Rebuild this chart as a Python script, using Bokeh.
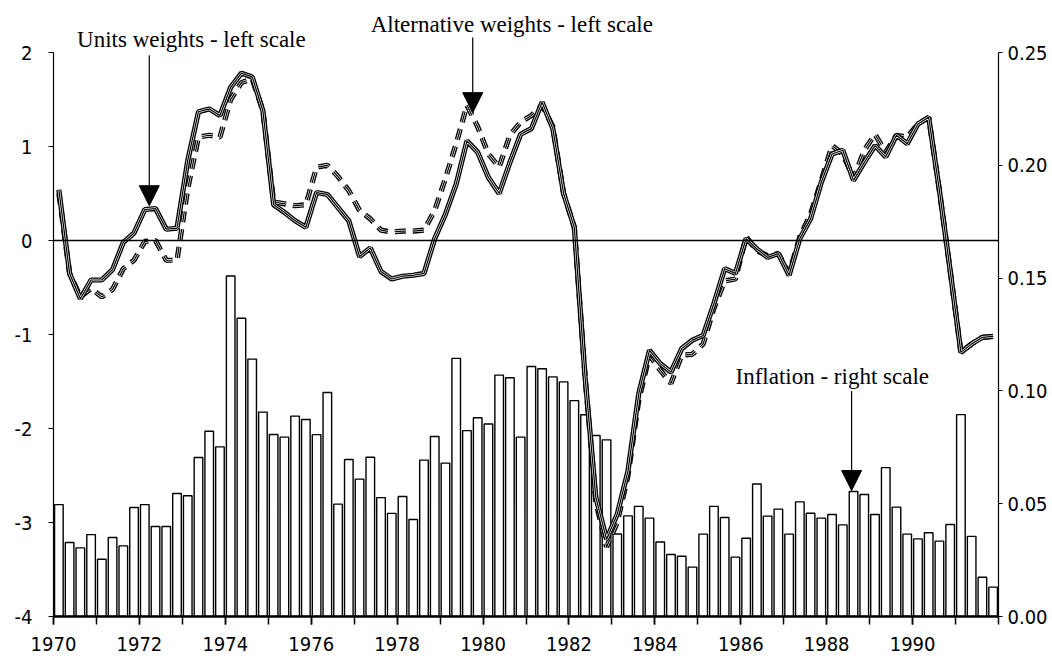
from bokeh.plotting import figure
from bokeh.models import (Range1d, LinearAxis, FixedTicker, Span, Label, Arrow,
                          NormalHead, ColumnDataSource, PrintfTickFormatter)
from bokeh.transform import dodge
from bokeh.embed import file_html
from bokeh.resources import INLINE

# ---------------- data ----------------
years = list(range(1970, 1992))
quarter_starts = [y + q * 0.25 for y in years for q in range(4)]

# quarterly inflation (right scale)
inflation = [
    0.0496, 0.0328, 0.0304, 0.0363,   # 1970
    0.0254, 0.0350, 0.0313, 0.0483,   # 1971
    0.0496, 0.0399, 0.0399, 0.0545,   # 1972
    0.0535, 0.0705, 0.0821, 0.0752,   # 1973
    0.1509, 0.1322, 0.1141, 0.0906,   # 1974
    0.0807, 0.0795, 0.0888, 0.0873,   # 1975
    0.0806, 0.0993, 0.0498, 0.0696,   # 1976
    0.0609, 0.0706, 0.0527, 0.0457,   # 1977
    0.0532, 0.0430, 0.0693, 0.0798,   # 1978
    0.0680, 0.1144, 0.0824, 0.0881,   # 1979
    0.0853, 0.1070, 0.1058, 0.0795,   # 1980
    0.1108, 0.1098, 0.1062, 0.1040,   # 1981
    0.0957, 0.0894, 0.0802, 0.0783,   # 1982
    0.0366, 0.0446, 0.0488, 0.0436,   # 1983
    0.0330, 0.0275, 0.0267, 0.0219,   # 1984
    0.0365, 0.0488, 0.0439, 0.0263,   # 1985
    0.0347, 0.0587, 0.0445, 0.0476,   # 1986
    0.0365, 0.0508, 0.0458, 0.0436,   # 1987
    0.0452, 0.0406, 0.0554, 0.0541,   # 1988
    0.0452, 0.0660, 0.0485, 0.0365,   # 1989
    0.0344, 0.0371, 0.0334, 0.0408,   # 1990
    0.0895, 0.0355, 0.0174, 0.0130,   # 1991
]

# units weights (left scale, solid)
units_weights = [
    0.54, -0.35, -0.62, -0.42,
    -0.42, -0.31, -0.02, 0.08,
    0.33, 0.34, 0.12, 0.13,
    0.85, 1.37, 1.40, 1.33,
    1.63, 1.78, 1.74, 1.38,
    0.38, 0.30, 0.21, 0.14,
    0.51, 0.49, 0.35, 0.21,
    -0.17, -0.08, -0.33, -0.41,
    -0.38, -0.37, -0.35, 0.02,
    0.28, 0.60, 1.06, 0.94,
    0.67, 0.50, 0.83, 1.13,
    1.19, 1.47, 1.19, 0.50,
    0.14, -1.45, -2.73, -3.18,
    -2.91, -2.45, -1.63, -1.17,
    -1.31, -1.40, -1.15, -1.06,
    -1.01, -0.67, -0.30, -0.35,
    0.02, -0.09, -0.18, -0.14,
    -0.37, 0.02, 0.23, 0.62,
    0.92, 0.96, 0.64, 0.83,
    1.01, 0.89, 1.12, 1.03,
    1.24, 1.31, 0.53, -0.32,
    -1.19, -1.10, -1.03, -1.02,
]

# alternative weights (left scale, dashed)
alt_weights = [
    0.50, -0.35, -0.60, -0.51,
    -0.60, -0.52, -0.30, -0.21,
    -0.01, 0.00, -0.21, -0.21,
    0.55, 1.10, 1.12, 1.10,
    1.50, 1.68, 1.72, 1.38,
    0.41, 0.39, 0.37, 0.38,
    0.78, 0.80, 0.68, 0.53,
    0.32, 0.23, 0.11, 0.09,
    0.10, 0.10, 0.11, 0.32,
    0.66, 1.03, 1.44, 1.21,
    0.92, 0.78, 1.12, 1.26,
    1.33, 1.44, 1.21, 0.50,
    0.14, -1.45, -2.78, -3.26,
    -3.00, -2.50, -1.70, -1.22,
    -1.38, -1.52, -1.22, -1.21,
    -1.10, -0.72, -0.43, -0.41,
    0.04, -0.11, -0.16, -0.14,
    -0.35, 0.04, 0.28, 0.64,
    1.01, 0.92, 0.66, 0.96,
    1.13, 0.94, 1.12, 1.10,
    1.24, 1.31, 0.53, -0.32,
    -1.19, -1.10, -1.03, -1.02,
]

left_ticks = [-4, -3, -2, -1, 0, 1, 2]
right_ticks = [0.0, 0.05, 0.10, 0.15, 0.20, 0.25]
label_years = [1970, 1972, 1974, 1976, 1978, 1980, 1982, 1984, 1986, 1988, 1990]
tick_years = list(range(1970, 1993))

src = ColumnDataSource(dict(t=quarter_starts, inflation=inflation,
                            units=units_weights, alt=alt_weights))

# ---------------- layout geometry ----------------
LEFT_MIN, LEFT_MAX = -4, 2
RIGHT_MIN, RIGHT_MAX = 0.0, 0.25
PLOT_H = 564          # px between the -4 and 2 ticks
TOP_PAD = 52          # px of annotation room above the "2" tick (inside the frame)
left_top = LEFT_MAX + TOP_PAD * (LEFT_MAX - LEFT_MIN) / PLOT_H
right_top = RIGHT_MAX + TOP_PAD * (RIGHT_MAX - RIGHT_MIN) / PLOT_H

AXIS_FONT = "DejaVu Sans Condensed"
SERIF = "Liberation Serif"

p = figure(width=1050, height=664, x_range=Range1d(1970, 1992),
           y_range=Range1d(LEFT_MIN, left_top),
           output_backend="svg", toolbar_location=None,
           min_border_left=53, min_border_right=39, min_border_top=0, min_border_bottom=48)
p.outline_line_color = None
p.grid.visible = False
p.background_fill_color = "white"
p.border_fill_color = "white"
p.extra_y_ranges = {"infl": Range1d(RIGHT_MIN, right_top)}

xq = dodge("t", 0.125)

# bars
p.vbar(x=xq, top="inflation", bottom=0, width=0.2, source=src, y_range_name="infl",
       fill_color="white", line_color="black", line_width=1.4)

# zero line
p.add_layout(Span(location=0, dimension="width", line_color="black", line_width=1.5))

# alternative weights: dashed striped line
for w, c in ((5.2, "black"), (2.5, "white"), (1.2, "black")):
    p.line(x=xq, y="alt", source=src, line_color=c, line_width=w, line_dash="11 7")
# units weights: solid striped line
for w, c in ((5.2, "black"), (2.5, "white"), (1.2, "black")):
    p.line(x=xq, y="units", source=src, line_color=c, line_width=w)

# axes
xa = p.xaxis[0]
xa.ticker = FixedTicker(ticks=label_years, minor_ticks=tick_years)
xa.major_tick_in = 0
xa.major_tick_out = 8
xa.minor_tick_in = 0
xa.minor_tick_out = 8
xa.major_tick_line_width = 1.5
xa.minor_tick_line_width = 1.5
xa.axis_line_width = 2.5
xa.major_label_text_font = AXIS_FONT
xa.major_label_text_font_size = "20px"
xa.major_label_text_color = "black"
xa.major_label_standoff = 12

ya = p.yaxis[0]
ya.ticker = FixedTicker(ticks=left_ticks)
ya.formatter = PrintfTickFormatter(format="%d")
ya.bounds = (LEFT_MIN, LEFT_MAX)
ya.major_tick_in = 0
ya.major_tick_out = 5
ya.minor_tick_out = 0
ya.minor_tick_in = 0
ya.axis_line_width = 1.2
ya.major_label_text_font = AXIS_FONT
ya.major_label_text_font_size = "20px"
ya.major_label_text_color = "black"
ya.major_label_standoff = 16

ra = LinearAxis(y_range_name="infl", ticker=FixedTicker(ticks=right_ticks),
                formatter=PrintfTickFormatter(format="%.2f"), bounds=(RIGHT_MIN, RIGHT_MAX))
ra.major_tick_in = 0
ra.major_tick_out = 4
ra.minor_tick_out = 0
ra.minor_tick_in = 0
ra.axis_line_width = 1.2
ra.major_label_text_font = AXIS_FONT
ra.major_label_text_font_size = "20px"
ra.major_label_text_color = "black"
ra.major_label_standoff = 5
p.add_layout(ra, "right")

# annotations
def note(x, y, text):
    p.add_layout(Label(x=x, y=y, text=text, text_font=SERIF, text_font_size="23px",
                       text_align="center", text_baseline="middle", text_color="black"))

def arrow(x, y0, y1):
    p.add_layout(Arrow(end=NormalHead(size=20, fill_color="black", line_color="black"),
                       x_start=x, y_start=y0, x_end=x, y_end=y1,
                       line_color="black", line_width=1.2))

note(1973.21, 2.14, "Units weights - left scale")
arrow(1972.23, 1.97, 0.37)
note(1980.67, 2.30, "Alternative weights - left scale")
arrow(1979.76, 2.16, 1.36)
note(1988.13, -1.45, "Inflation - right scale")
arrow(1988.58, -1.60, -2.66)

open("out.html", "w").write(file_html(p, INLINE))
